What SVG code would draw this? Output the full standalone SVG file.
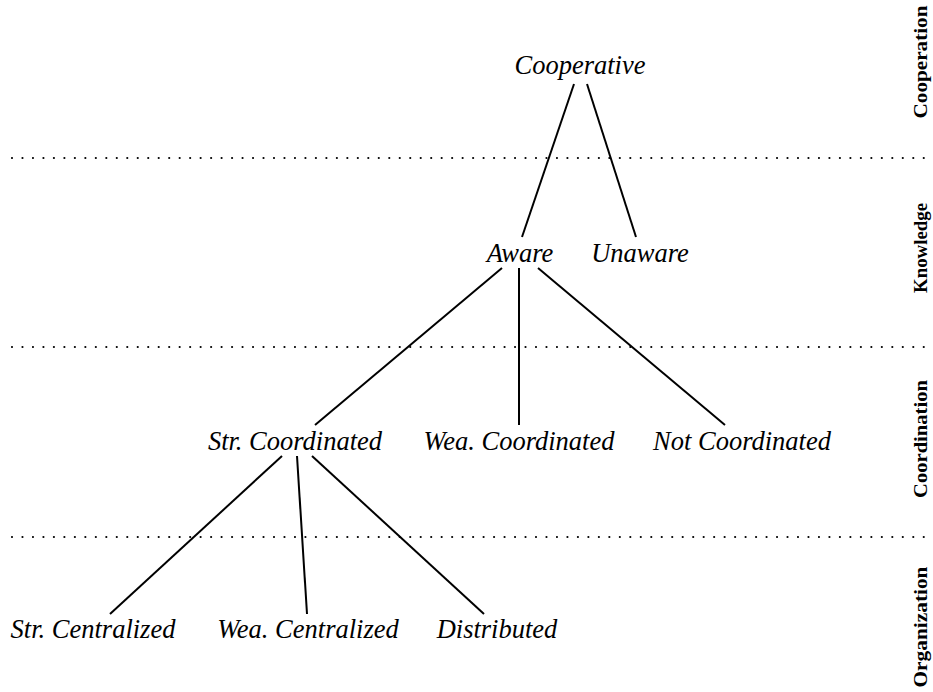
<svg xmlns="http://www.w3.org/2000/svg" width="933" height="692" viewBox="0 0 933 692">
<style>
.n{font-family:"Liberation Serif",serif;font-style:italic;font-size:26.5px;fill:#000;text-anchor:middle}
.lay{font-family:"Liberation Serif",serif;font-weight:bold;font-size:19px;fill:#000;text-anchor:middle}
.e{stroke:#000;stroke-width:2;fill:none}
.dot{stroke:#000;stroke-width:2.2;stroke-dasharray:0 10.48;stroke-linecap:round;fill:none}
</style>
<rect width="933" height="692" fill="#fff"/>
<g id="separators">
<line class="dot" x1="12" y1="158" x2="925" y2="158"/>
<line class="dot" x1="12" y1="347" x2="925" y2="347"/>
<line class="dot" x1="12" y1="537" x2="925" y2="537"/>
</g>
<g id="layers">
<text class="lay" transform="translate(927,62) rotate(-90)" textLength="113" lengthAdjust="spacingAndGlyphs">Cooperation</text>
<text class="lay" transform="translate(927,248) rotate(-90)" textLength="90" lengthAdjust="spacingAndGlyphs">Knowledge</text>
<text class="lay" transform="translate(927,439) rotate(-90)" textLength="118" lengthAdjust="spacingAndGlyphs">Coordination</text>
<text class="lay" transform="translate(927,627) rotate(-90)" textLength="121" lengthAdjust="spacingAndGlyphs">Organization</text>
</g>
<g id="connectors">
<line class="e" x1="574" y1="84" x2="522" y2="237"/>
<line class="e" x1="587" y1="84" x2="636" y2="237"/>
<line class="e" x1="502" y1="268" x2="315" y2="425"/>
<line class="e" x1="519" y1="268" x2="519" y2="425"/>
<line class="e" x1="538" y1="268" x2="725" y2="425"/>
<line class="e" x1="282" y1="456" x2="110" y2="614"/>
<line class="e" x1="297" y1="456" x2="307" y2="614"/>
<line class="e" x1="312" y1="456" x2="484" y2="614"/>
</g>
<g id="cooperative"><text class="n" x="580" y="74">Cooperative</text></g>
<g id="aware"><text class="n" x="520" y="262">Aware</text></g>
<g id="unaware"><text class="n" x="640" y="262">Unaware</text></g>
<g id="str-coordinated"><text class="n" x="295" y="450">Str. Coordinated</text></g>
<g id="wea-coordinated"><text class="n" x="519" y="450">Wea. Coordinated</text></g>
<g id="not-coordinated"><text class="n" x="742" y="450">Not Coordinated</text></g>
<g id="str-centralized"><text class="n" x="93" y="638">Str. Centralized</text></g>
<g id="wea-centralized"><text class="n" x="308" y="638">Wea. Centralized</text></g>
<g id="distributed"><text class="n" x="497" y="638">Distributed</text></g>
</svg>
